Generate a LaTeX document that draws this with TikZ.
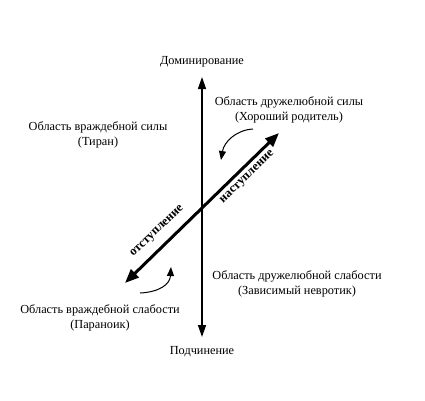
\documentclass[tikz,border=0pt]{standalone}
\usepackage{fontspec}
\setmainfont{Liberation Serif}
\usetikzlibrary{arrows.meta,calc}
\begin{document}
\begin{tikzpicture}[x=1pt,y=-1pt,
  lbl/.style={font=\fontsize{12.3}{15}\selectfont,align=center,inner sep=0pt},
  axis/.style={line width=1.5pt,-{Triangle[length=12pt,width=8pt]}},
  diag/.style={line width=3pt,{Triangle[length=14pt,width=11pt]}-{Triangle[length=14pt,width=11pt]}},
  curv/.style={line width=1pt,-{Triangle[length=9pt,width=7pt]}},
  along/.style={font=\bfseries\fontsize{12.5}{14}\selectfont,rotate=44,inner sep=0pt,anchor=center}]
\useasboundingbox (0,0) rectangle (425,400);
\coordinate (c) at (202,207);
\coordinate (top) at (202,77);
\coordinate (bot) at (202,337);
\coordinate (ne) at (279,133);
\coordinate (sw) at (125,283);
\node[lbl] (dom) at (202,62) {Доминирование};
\node[lbl] (sub) at (202,352) {Подчинение};
\node[lbl] (fs) at (289,110) {Область дружелюбной силы\\(Хороший родитель)};
\node[lbl] (hs) at (98,135) {Область враждебной силы\\(Тиран)};
\node[lbl] (fw) at (297,284) {Область дружелюбной слабости\\(Зависимый невротик)};
\node[lbl] (hw) at (100,318) {Область враждебной слабости\\(Параноик)};
\draw[axis] (c) -- (top);
\draw[axis] (c) -- (bot);
\draw[diag] (sw) -- (ne);
\node[along] (adv) at (247.5,177.5) {наступление};
\node[along] (ret) at (157.5,231.5) {отступление};
\coordinate (a1) at (253,129);
\coordinate (a2) at (221,160);
\draw[curv] (a1) .. controls (236,130) and (224,142) .. (a2);
\coordinate (b1) at (140,293);
\coordinate (b2) at (171,267);
\draw[curv] (b1) .. controls (160,292) and (170,284) .. (b2);
\end{tikzpicture}
\end{document}
